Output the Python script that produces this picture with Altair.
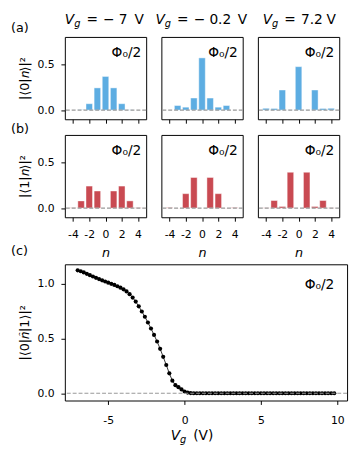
import altair as alt
import pandas as pd

FONT = "DejaVu Sans"
BLUE = "#5DADE2"
RED = "#C94A52"
ZERO_GRAY = "#999999"

# ---------------- data ----------------
n_states = [-4, -3, -2, -1, 0, 1, 2, 3, 4]
n_ticks = [-4, -2, 0, 2, 4]
flux_label = "Φ₀/2"

ground_vm7 = [0.0, 0.003, 0.070, 0.243, 0.368, 0.243, 0.070, 0.003, 0.0]
ground_vm02 = [0.0, 0.050, 0.032, 0.132, 0.571, 0.132, 0.032, 0.050, 0.0]
ground_v72 = [0.020, 0.018, 0.220, 0.002, 0.475, 0.002, 0.220, 0.018, 0.020]

excited_vm7 = [0.004, 0.079, 0.241, 0.187, 0.0, 0.187, 0.241, 0.079, 0.004]
excited_vm02 = [0.006, 0.001, 0.158, 0.335, 0.0, 0.335, 0.158, 0.001, 0.006]
excited_v72 = [0.003, 0.083, 0.018, 0.392, 0.0, 0.392, 0.018, 0.083, 0.003]

vg_values = [
    -7.0, -6.8, -6.6, -6.4, -6.2, -6.0, -5.8, -5.6, -5.4, -5.2,
    -5.0, -4.8, -4.6, -4.4, -4.2, -4.0, -3.8, -3.6, -3.4, -3.2,
    -3.0, -2.8, -2.6, -2.4, -2.2, -2.0, -1.8, -1.6, -1.4, -1.2,
    -1.0, -0.8, -0.6, -0.4, -0.2, 0.0, 0.2, 0.4, 0.6, 0.8,
    1.0, 1.2, 1.4, 1.6, 1.8, 2.0, 2.2, 2.4, 2.6, 2.8,
    3.0, 3.2, 3.4, 3.6, 3.8, 4.0, 4.2, 4.4, 4.6, 4.8,
    5.0, 5.2, 5.4, 5.6, 5.8, 6.0, 6.2, 6.4, 6.6, 6.8,
    7.0, 7.2, 7.4, 7.6, 7.8, 8.0, 8.2, 8.4, 8.6, 8.8,
    9.0, 9.2, 9.4, 9.6, 9.8,
]
matrix_element = [
    1.120, 1.112, 1.101, 1.088, 1.076, 1.064, 1.052, 1.040, 1.029, 1.018,
    1.008, 0.997, 0.987, 0.975, 0.962, 0.947, 0.928, 0.903, 0.872, 0.835,
    0.792, 0.745, 0.697, 0.645, 0.590, 0.532, 0.472, 0.405, 0.332, 0.258,
    0.182, 0.115, 0.074, 0.056, 0.035, 0.016, 0.006, 0.002, 0.0, 0.0,
    0.0, 0.0, 0.0, 0.0, 0.0, 0.0, 0.0, 0.0, 0.0, 0.0,
    0.0, 0.0, 0.0, 0.0, 0.0, 0.0, 0.0, 0.0, 0.0, 0.0,
    0.0, 0.0, 0.0, 0.0, 0.0, 0.0, 0.0, 0.0, 0.0, 0.0,
    0.0, 0.0, 0.0, 0.0, 0.0, 0.0, 0.0, 0.0, 0.0, 0.0,
    0.0, 0.0, 0.0, 0.0, 0.0,
]
zero_level = [0.0]

# ---------------- layout ----------------
PW, PH = 83, 84
BW, BH = 288, 139

HYPHEN_LABEL = "datum.value < 0 ? '-' + (-datum.value) : '' + datum.value"


def text_piece(txt, x, y, size=13, style="normal", align="left", opacity=1):
    return alt.Chart(pd.DataFrame({"t": [txt]})).mark_text(
        align=align, baseline="alphabetic", font=FONT, fontSize=size,
        fontStyle=style, color="black", opacity=opacity
    ).encode(x=alt.value(x), y=alt.value(y), text="t:N")


def vg_title(x0, rest_tokens, y=-13):
    layers = [
        text_piece("V", x0, y, 14, "italic"),
        text_piece("g", x0 + 9.5, y + 3, 10, "italic"),
    ]
    for txt, dx in rest_tokens:
        layers.append(text_piece(txt, x0 + dx, y, 14))
    return layers


title_tokens = [
    (0, [("=", 22), ("−", 39), ("7", 55), ("V", 71)]),
    (-6, [("=", 22), ("−", 39), ("0.2", 55), ("V", 84)]),
    (5, [("=", 22), ("7.2", 39), ("V", 65)]),
]


def bar_panel(vals, color, col, row):
    df = pd.DataFrame({"n": n_states, "p": vals})
    show_labels = row == "b"
    xaxis = alt.Axis(values=n_ticks, labels=show_labels, labelExpr=HYPHEN_LABEL,
                     labelPadding=8, titleFontStyle="italic", titlePadding=7,
                     titleFontSize=13)
    if col == 0:
        ytitle = "|⟨0|𝑛⟩|²" if row == "a" else "|⟨1|𝑛⟩|²"
        yenc = alt.Y("p:Q", scale=alt.Scale(domain=[-0.1, 0.8], nice=False, zero=False),
                     axis=alt.Axis(values=[0, 0.5], format=".1f", title=ytitle,
                                   labelPadding=7, titlePadding=6))
    else:
        yenc = alt.Y("p:Q", scale=alt.Scale(domain=[-0.1, 0.8], nice=False, zero=False),
                     axis=None)
    bars = alt.Chart(df).transform_calculate(
        n0="datum.n - 0.4", n1="datum.n + 0.4"
    ).mark_rect(color=color, stroke="white", strokeOpacity=0.55, strokeWidth=0.8).encode(
        x=alt.X("n0:Q", scale=alt.Scale(domain=[-5, 5], nice=False, zero=False),
                axis=xaxis, title="n" if show_labels else None),
        x2="n1:Q",
        y=yenc,
        y2=alt.datum(0),
    )
    rule = alt.Chart(pd.DataFrame({"p": zero_level})).mark_rule(
        color=ZERO_GRAY, strokeDash=[4, 2], strokeWidth=1.2
    ).encode(y=yenc)
    layers = [bars, rule, text_piece(flux_label, PW - 5, 20, 14, align="right")]
    if row == "a":
        x0, toks = title_tokens[col]
        layers += vg_title(x0, toks)
        if col == 0:
            layers.append(text_piece("(a)", -55, -5, 13))
    elif col == 0:
        layers.append(text_piece("(b)", -55, -2, 13))
        layers.append(text_piece("(c)", -55, PH + 38, 13))
    return alt.layer(*layers).properties(width=PW, height=PH)


top_group = alt.concat(
    bar_panel(ground_vm7, BLUE, 0, "a"),
    bar_panel(ground_vm02, BLUE, 1, "a"),
    bar_panel(ground_v72, BLUE, 2, "a"),
    bar_panel(excited_vm7, RED, 0, "b"),
    bar_panel(excited_vm02, RED, 1, "b"),
    bar_panel(excited_v72, RED, 2, "b"),
    columns=3, spacing={"row": 16, "column": 15.5}, bounds="flush",
)

# bottom panel
cdf = pd.DataFrame({"vg": vg_values, "m": matrix_element})
xb = alt.X("vg:Q", scale=alt.Scale(domain=[-7.84, 10.64], nice=False, zero=False),
           axis=alt.Axis(values=[-5, 0, 5, 10], labelExpr=HYPHEN_LABEL, labelPadding=10),
           title=None)
yb = alt.Y("m:Q", scale=alt.Scale(domain=[-0.066, 1.175], nice=False, zero=False),
           axis=alt.Axis(values=[0, 0.5, 1.0], format=".1f", title="|⟨0|𝑛̂|1⟩|²",
                         labelPadding=7, titlePadding=6))
line = alt.Chart(cdf).mark_line(color="black", strokeWidth=0.8).encode(x=xb, y=yb)
dots = alt.Chart(cdf).mark_circle(color="black", opacity=1, size=18).encode(x=xb, y=yb)
zrule = alt.Chart(pd.DataFrame({"m": zero_level})).mark_rule(
    color=ZERO_GRAY, strokeDash=[4, 2], strokeWidth=1.2
).encode(y=yb)
bottom = alt.layer(
    line, dots, zrule,
    text_piece(flux_label, BW - 13, 25, 14, align="right"),
    text_piece("(c)", -55, 70, 13, opacity=0),
    text_piece("V", 108, 179, 14, "italic"),
    text_piece("g", 117.5, 182, 10, "italic"),
    text_piece("(V)", 131, 179, 14),
).properties(width=BW, height=BH)

chart = alt.vconcat(top_group, bottom, spacing=3).configure(
    font=FONT, padding={"left": 2, "top": 0, "right": 2, "bottom": 2}
).configure_view(
    stroke="black", strokeWidth=1
).configure_axis(
    domain=False, grid=False, tickColor="black", tickSize=4, tickWidth=1,
    labelFont=FONT, labelFontSize=11, labelColor="black",
    titleFont=FONT, titleFontSize=13, titleFontWeight="normal", titleColor="black",
)

chart.save("out.html", embed_options={"renderer": "svg", "actions": False})
